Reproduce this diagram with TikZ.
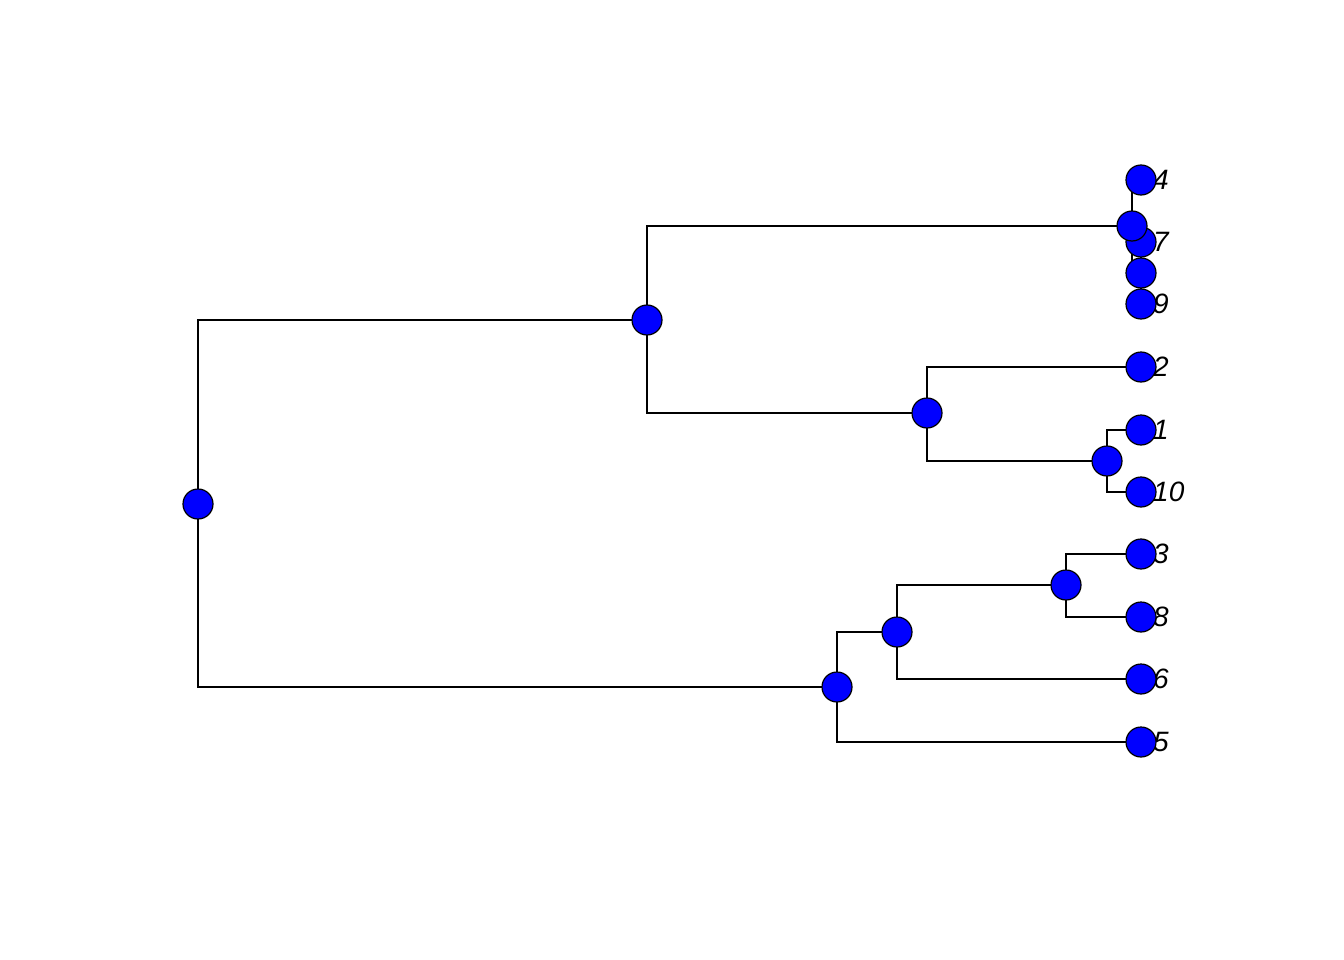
\documentclass[tikz,border=0pt]{standalone}
\usepackage{fontspec}
\setmainfont{Liberation Sans}
\tikzset{
  dot/.style={circle, draw=black, fill=blue, line width=1.2pt, minimum size=30pt, inner sep=0pt},
  branch/.style={line width=1.4pt},
  tiplabel/.style={anchor=west, inner sep=0pt, font=\fontsize{28}{32}\selectfont\itshape}
}
\begin{document}
\begin{tikzpicture}[x=1pt, y=-1pt]
      \useasboundingbox (0,0) rectangle (1344,960);

      % Inner nodes of the tree
      \coordinate (root) at (198,504);
      \coordinate (nA) at (647,320);
      \coordinate (nB) at (837,687);
      \coordinate (nC) at (1132,226);
      \coordinate (nD) at (927,413);
      \coordinate (nE) at (1141,273);
      \coordinate (nF) at (1107,461);
      \coordinate (nG) at (897,632);
      \coordinate (nH) at (1066,585);

      % Tips
      \foreach \name/\y in {4/180, 7/242, 9/304, 2/367, 1/430, 10/492, 3/554, 8/617, 6/679, 5/742}
        \coordinate (t\name) at (1141,\y);

      % Draw the branches
      \draw[branch] (root) |- (nA);
      \draw[branch] (root) |- (nB);
      \draw[branch] (nA) |- (nC);
      \draw[branch] (nA) |- (nD);
      \draw[branch] (nC) |- (t4);
      \draw[branch] (nC) |- (nE);
      \draw[branch] (nE) |- (t7);
      \draw[branch] (nE) |- (t9);
      \draw[branch] (nD) |- (t2);
      \draw[branch] (nD) |- (nF);
      \draw[branch] (nF) |- (t1);
      \draw[branch] (nF) |- (t10);
      \draw[branch] (nB) |- (nG);
      \draw[branch] (nB) |- (t5);
      \draw[branch] (nG) |- (nH);
      \draw[branch] (nG) |- (t6);
      \draw[branch] (nH) |- (t3);
      \draw[branch] (nH) |- (t8);

      % Tip labels, then the dots
      \foreach \name in {4,7,9,2,1,10,3,8,6,5}
        \node[tiplabel] (l\name) at ([xshift=12pt]t\name) {\name};
      \foreach \name in {4,7,9,2,1,10,3,8,6,5}
        \node[dot] at (t\name) {};
      \foreach \n in {root,nA,nB,nC,nD,nE,nF,nG,nH}
        \node[dot] at (\n) {};
    \end{tikzpicture}
\end{document}
